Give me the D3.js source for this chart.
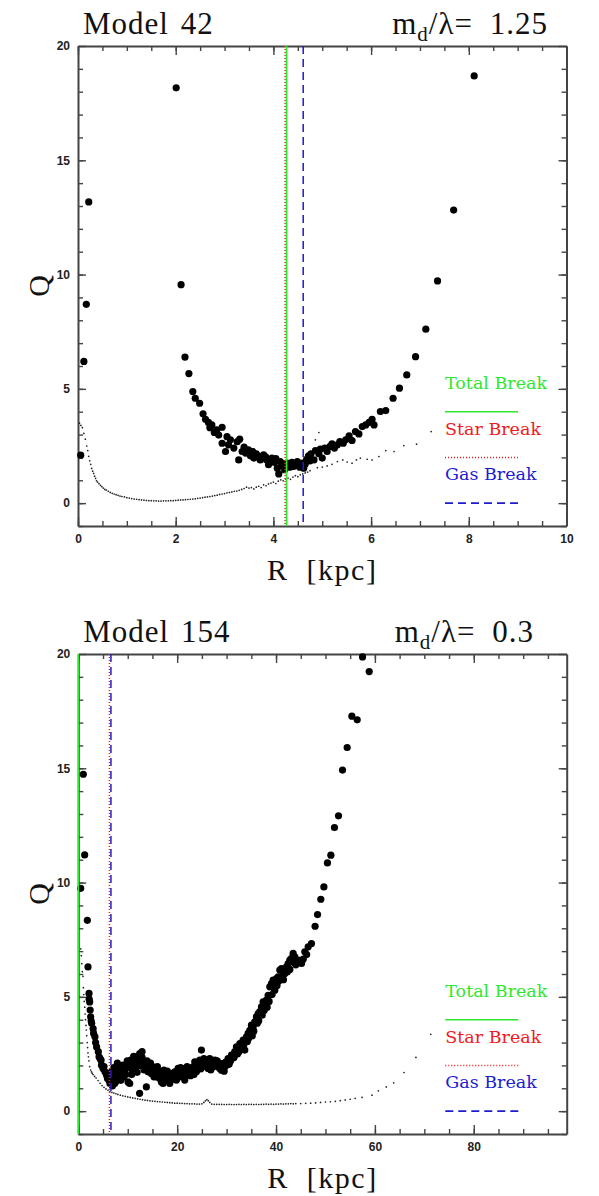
<!DOCTYPE html>
<html>
<head>
<meta charset="utf-8">
<script src="https://cdn.jsdelivr.net/npm/d3@7"></script>
<style>
  body { margin: 0; background: #fff; }
</style>
</head>
<body>
<script>
// Model 42 : big dots (Q total) and small dots, R in kpc
const m42Big = [
  [0.055,2.1],[0.12,6.2],[0.17,8.7],[0.22,13.18],[2.01,18.17],[2.11,9.56],[2.19,6.39],[2.27,5.67],
  [2.35,4.88],[2.40,4.59],[2.49,4.37],[2.56,3.91],[2.61,3.67],[2.67,3.53],[2.70,3.30],[2.74,3.42],
  [2.79,3.09],[2.84,3.21],[2.88,2.98],[2.95,3.32],[2.95,2.62],[3.02,2.26],[3.05,2.91],[3.08,2.55],
  [3.12,2.77],[3.19,2.41],[3.26,2.69],[3.31,2.80],[3.29,1.89],[3.36,2.26],[3.40,2.45],[3.43,2.19],
  [3.49,2.33],[3.53,2.07],[3.58,2.25],[3.60,1.97],[3.65,2.16],[3.70,2.05],[3.73,1.89],[3.80,2.11],
  [3.84,2.02],[3.86,1.89],[3.90,1.68],[3.93,1.85],[3.97,1.97],[4.02,1.78],[4.05,1.95],[4.08,1.53],
  [4.11,1.28],[4.14,1.82],[4.18,1.63],[4.20,1.72],[4.23,1.46],[4.28,1.75],[4.33,1.57],[4.38,1.78],
  [4.40,1.60],[4.43,1.63],[4.49,1.82],[4.52,1.70],[4.54,1.57],[4.59,1.75],[4.62,1.53],[4.65,1.70],
  [4.68,1.92],[4.72,2.07],[4.75,1.85],[4.77,2.16],[4.83,1.89],[4.86,2.30],[4.93,2.16],[4.96,2.36],
  [5.00,1.97],[5.05,2.41],[5.10,2.26],[5.16,2.48],[5.20,2.59],[5.25,2.41],[5.31,2.55],[5.36,2.69],
  [5.43,2.62],[5.48,2.77],[5.55,2.94],[5.61,2.74],[5.68,3.13],[5.75,3.03],[5.82,3.35],[5.89,3.42],
  [5.96,3.53],[6.02,3.67],[6.06,3.42],[6.19,4.01],[6.30,4.05],[6.45,4.59],[6.58,5.03],[6.73,5.61],
  [6.91,6.41],[7.12,7.61],[7.36,9.72],[7.69,12.82],[8.11,18.69]
];
const m42Small = [
  [0.03,3.5],[0.06,3.4],[0.09,3.3],[0.12,3.05],[0.15,2.8],[0.18,2.5],[0.2,2.3],[0.22,2.05],
  [0.24,1.85],[0.26,1.7],[0.28,1.52],[0.3,1.4],[0.32,1.3],[0.34,1.18],[0.36,1.08],[0.38,0.98],
  [0.4,0.92],[0.43,0.85],[0.46,0.78],[0.49,0.72],[0.52,0.66],[0.55,0.6],[0.58,0.57],[0.62,0.52],
  [0.66,0.47],[0.7,0.43],[0.74,0.4],[0.78,0.37],[0.82,0.34],[0.86,0.31],[0.9,0.29],[0.95,0.27],
  [1.0,0.24],[1.05,0.22],[1.1,0.2],[1.15,0.18],[1.2,0.17],[1.25,0.15],[1.3,0.14],[1.35,0.13],
  [1.4,0.12],[1.45,0.11],[1.5,0.11],[1.55,0.1],[1.6,0.1],[1.65,0.09],[1.7,0.09],[1.75,0.1],
  [1.8,0.1],[1.85,0.1],[1.9,0.11],[1.95,0.11],[2.0,0.12],[2.05,0.13],[2.1,0.14],[2.15,0.14],
  [2.2,0.15],[2.25,0.16],[2.3,0.17],[2.35,0.18],[2.4,0.19],[2.45,0.21],[2.5,0.22],[2.55,0.24],
  [2.6,0.26],[2.65,0.27],[2.7,0.29],[2.75,0.31],[2.8,0.33],[2.85,0.35],[2.9,0.38],[2.95,0.4],
  [3.0,0.42],[3.05,0.45],[3.1,0.47],[3.15,0.49],[3.2,0.52],[3.25,0.53],[3.3,0.56],[3.35,0.6],
  [3.4,0.64],[3.45,0.7],[3.5,0.66],[3.55,0.68],[3.6,0.62],[3.65,0.7],[3.7,0.74],[3.75,0.68],
  [3.8,0.8],[3.85,0.76],[3.9,0.84],[3.95,0.88],[4.0,0.92],[4.05,0.86],[4.1,0.96],[4.15,1.02],
  [4.2,0.98],[4.25,1.06],[4.3,1.1],[4.35,1.04],[4.4,1.14],[4.45,1.2],[4.5,1.16],[4.55,1.24],
  [4.6,1.28],[4.65,1.32],[4.7,1.36],[4.75,1.42],[4.86,2.77],[4.93,3.09],[4.9,1.55],[5.0,1.58],
  [5.1,1.63],[5.2,1.7],[5.31,1.82],[5.42,1.89],[5.51,1.8],[5.61,1.75],[5.7,1.89],[5.78,1.97],
  [5.92,1.92],[6.02,1.89],[6.16,2.04],[6.3,2.3],[6.47,2.26],[6.67,2.52],[6.93,2.58],[7.23,3.13]
];

// Model 154
const m154Big = [
  [0.48,9.75],[1.01,14.74],[1.29,11.21],[1.83,8.35],[1.96,6.31],[2.17,5.15],[2.2,4.9],[2.3,4.78],
  [2.4,4.42],[2.5,4.13],[2.6,3.95],[2.7,3.84],[3.0,3.61],[3.1,3.4],[3.37,3.25],[3.5,3.0],
  [3.7,2.81],[4.05,2.6],[4.2,2.38],[4.4,2.3],[4.6,2.23],[4.7,2.01],[5.0,1.87],[5.2,1.95],
  [5.4,1.72],[5.7,1.58],[5.9,1.43],[6.2,1.35],[6.4,1.21],[6.6,1.7],[6.9,1.1],
  [7.0,1.5],[7.2,1.9],[7.36,1.21],[7.6,1.3],[7.7,1.79],[7.9,2.1],[8.04,1.5],[8.37,1.94],
  [8.6,1.35],[8.71,1.65],[9.05,2.01],[9.2,1.5],[9.39,1.72],[9.72,1.94],[9.9,2.2],[10.06,1.28],
  [10.4,1.21],[10.6,2.23],[10.8,1.6],[11.07,2.08],[11.2,2.4],[11.41,1.87],[11.75,2.38],[11.9,1.7],
  [12.09,2.01],[12.4,0.78],[12.42,2.52],[12.6,2.0],[12.76,2.23],[12.9,2.6],[13.1,1.94],[13.3,1.8],
  [13.43,2.16],[13.77,1.06],[13.9,2.2],[14.11,1.72],[14.45,1.87],[14.6,2.1],[14.78,1.65],[15.12,1.94],
  [15.3,1.5],[15.46,1.72],[15.8,1.5],[16.0,1.95],[16.13,1.79],[16.47,1.43],[16.7,1.7],[16.81,1.28],
  [17.15,1.21],[17.3,1.8],[17.48,1.57],[17.82,1.36],[18.0,1.75],[18.16,1.5],[18.5,1.21],[18.7,1.35],
  [18.83,1.57],[19.17,1.43],[19.3,1.6],[19.51,1.72],[19.85,1.36],[20.0,1.6],[20.18,1.87],[20.52,1.5],
  [20.7,1.9],[20.86,1.79],[21.2,1.65],[21.4,1.85],[21.53,1.36],[21.87,1.72],[22.0,1.95],[22.21,1.57],
  [22.55,1.79],[22.7,1.55],[22.88,1.87],[23.22,1.94],[23.4,1.6],[23.56,2.16],[23.9,1.72],[24.0,1.9],
  [24.23,2.08],[24.57,2.23],[24.8,1.85],[24.91,2.67],[25.24,2.01],[25.4,2.3],[25.58,2.23],[25.92,2.08],
  [26.0,2.15],[26.26,1.87],[26.59,2.3],[26.8,1.8],[26.93,2.08],[27.27,1.94],[27.5,2.0],[27.61,2.23],
  [27.94,2.16],[28.1,2.2],[28.28,1.94],[28.62,1.87],[28.8,2.05],[28.96,1.79],[29.29,2.08],[29.5,1.75],
  [29.63,1.94],[29.97,2.01],[30.1,2.1],[30.3,2.3],[30.64,2.16],[30.8,2.2],[30.98,2.45],[31.32,2.38],
  [31.5,2.35],[31.65,2.6],[31.99,2.81],[32.2,2.5],[32.33,2.74],[32.67,2.96],[33.0,2.89],[33.2,2.7],
  [33.34,3.11],[33.68,2.67],[34.02,3.25],[34.2,3.05],[34.35,3.4],[34.69,3.54],[35.03,3.76],[35.2,3.3],
  [35.37,3.69],[35.7,3.91],[36.04,4.13],[36.2,3.85],[36.38,4.27],[36.72,4.35],[37.05,4.56],[37.2,4.2],
  [37.39,4.78],[37.73,4.64],[38.06,4.86],[38.2,4.55],[38.4,5.07],[38.74,5.44],[39.08,5.58],[39.2,5.1],
  [39.41,5.73],[39.75,5.29],[40.09,5.8],[40.2,5.5],[40.43,5.88],[40.76,6.17],[41.1,6.24],[41.44,6.09],
  [41.5,5.75],[41.78,6.02],[42.11,6.31],[42.45,6.46],[42.79,6.61],[42.8,6.2],[43.13,6.68],[43.46,6.9],
  [43.8,6.75],[44.0,6.4],[44.47,6.61],[45.15,6.46],[45.5,6.65],[45.82,6.97],[46.2,6.85],[46.5,7.19],
  [47.17,7.33],[47.9,8.09],[48.4,8.6],[49.06,9.27],[49.68,9.81],[50.4,10.86],[51.09,11.2],[51.82,12.41],
  [52.64,12.92],[53.45,14.92],[54.39,15.91],[55.34,17.28],[56.42,17.12],[57.5,19.87],[58.85,19.23],
  // extra cluster points (band thickness)
  [7.5,1.65],[8.2,1.8],[8.9,1.85],[9.6,1.6],[10.3,1.9],[11.0,1.75],[11.6,2.15],[12.2,2.3],
  [12.9,2.35],[13.6,2.0],[14.3,1.95],[15.0,1.8],[15.7,1.65],[16.4,1.6],[17.1,1.55],[17.9,1.6],
  [18.6,1.65],[19.4,1.5],[20.3,1.7],[21.0,1.6],[21.7,1.55],[22.4,1.7],[23.1,1.75],[23.8,2.0],
  [24.4,2.0],[25.1,2.1],[25.8,1.95],[26.4,2.05],[27.1,2.15],[27.8,2.05],[28.5,2.1],[29.1,1.95],
  [29.8,2.15],[30.5,2.05],[31.1,2.3],[31.8,2.5],[32.5,2.6],[33.5,2.9],[34.5,3.2],[35.5,3.5],
  [36.5,3.95],[37.6,4.4],[38.6,4.8],[39.6,5.4],[40.6,5.7],[41.3,5.9],[42.3,6.1],[43.6,6.5]
];
const m154Small = [
  [0.5,7.1],[0.6,6.8],[0.7,6.45],[0.82,6.1],[0.95,5.9],[1.02,5.4],[1.1,5.1],[1.2,4.8],
  [1.3,4.55],[1.38,4.25],[1.45,4.0],[1.55,3.75],[1.62,3.55],[1.7,3.3],[1.8,3.0],[1.88,2.78],
  [1.96,2.55],[2.05,2.38],[2.15,2.2],[2.3,1.95],[2.5,1.8],[2.65,1.72],[2.8,1.66],[3.0,1.6],
  [3.3,1.52],[3.6,1.45],[4.0,1.34],[4.4,1.22],[4.8,1.12],[5.2,1.04],[5.6,0.97],[6.0,0.91],
  [6.4,0.86],[6.8,0.82],[7.2,0.79],[7.6,0.76],[8.0,0.73],[8.5,0.7],[9.0,0.67],[9.5,0.65],
  [10,0.62],[10.5,0.6],[11,0.58],[11.5,0.56],[12,0.54],[12.5,0.52],[13,0.5],[13.5,0.48],
  [14,0.47],[14.5,0.45],[15,0.44],[15.5,0.43],[16,0.42],[16.5,0.41],[17,0.4],[17.5,0.39],
  [18,0.38],[18.5,0.37],[19,0.36],[19.5,0.35],[20,0.35],[20.5,0.34],[21,0.34],[21.5,0.33],
  [22,0.33],[22.5,0.32],[23,0.32],[23.5,0.32],[24,0.31],[24.5,0.31],[25,0.32],[25.4,0.38],
  [25.7,0.45],[26.0,0.5],[26.3,0.46],[26.6,0.38],[27,0.31],[27.5,0.3],[28,0.3],[28.5,0.3],
  [29,0.3],[29.5,0.29],[30,0.29],[30.5,0.3],[31,0.29],[31.5,0.29],[32,0.29],[32.5,0.3],
  [33,0.29],[33.5,0.3],[34,0.29],[34.5,0.3],[35,0.3],[35.5,0.29],[36,0.3],[36.5,0.29],
  [37,0.3],[37.5,0.3],[38,0.31],[38.5,0.3],[39,0.31],[39.5,0.3],[40,0.31],[40.5,0.31],
  [41,0.32],[41.5,0.31],[42,0.32],[42.5,0.32],[43,0.33],[43.5,0.32],[44,0.33],[45,0.33],
  [46,0.34],[47,0.35],[48,0.36],[49,0.38],[50,0.4],[51,0.41],[52,0.43],[53,0.46],
  [54,0.49],[55,0.52],[56,0.56],[57.4,0.6],[59.4,0.7],[60.7,0.89],[62.3,1.06],[63.8,1.24],
  [65.9,1.69],[68.3,2.35],[71.3,3.36]
];

// break radii [total, star, gas]
const m42Breaks = [4.27, 4.24, 4.61];
const m154Breaks = [0, 6.3, 6.6];

const breakNames = ['Total Break', 'Star Break', 'Gas Break'];
const breakColors = ['#2ee82e', '#ee1c1c', '#1c1cd0'];
const breakDash = [null, '1,2', '8,5'];

const yMajor = [0, 5, 10, 15, 20];

const serif = 'Liberation Serif, Times New Roman, serif';

const wid = 599, hei = 1196;
const svg = d3.select('body').append('svg')
    .attr('width', wid)
    .attr('height', hei)
    .style('background', '#fff');

function drawPanel(p) {
    const x = d3.scaleLinear().domain(p.xDomain).range([p.left, p.right]);
    const y = d3.scaleLinear().domain([-1, 20]).range([p.bottom, p.top]);
    const g = svg.append('g');

    const yMinor = d3.range(-1, 20, 1);
    const axes = [
        [() => d3.axisBottom(x), 'translate(0,' + p.bottom + ')', p.xMajor, p.xMinor, true, 9],
        [() => d3.axisTop(x), 'translate(0,' + p.top + ')', p.xMajor, p.xMinor, false, 9],
        [() => d3.axisLeft(y), 'translate(' + p.left + ',0)', yMajor, yMinor, true, 8],
        [() => d3.axisRight(y), 'translate(' + p.right + ',0)', yMajor, yMinor, false, 8]
    ];
    axes.forEach(([mk, tr, major, minor, lab, len]) => {
        g.append('g').attr('transform', tr)
            .call(mk().tickValues(minor).tickSize(-5).tickSizeOuter(0).tickFormat(''))
            .call(s => s.select('.domain').remove());
        const a = g.append('g').attr('transform', tr)
            .call(mk().tickValues(major).tickSize(-len).tickSizeOuter(0).tickPadding(8)
                .tickFormat(lab ? d3.format('d') : ''));
        a.selectAll('text')
            .attr('font-family', 'Liberation Sans, Arial, sans-serif')
            .attr('font-weight', 'bold')
            .attr('font-size', 12)
            .attr('fill', '#222');
    });
    g.selectAll('.tick line').attr('stroke', '#444').attr('stroke-width', 1.4);
    g.selectAll('.domain').attr('stroke', '#444').attr('stroke-width', 2);

    // small dots
    g.append('g').selectAll('circle')
        .data(p.small).join('circle')
        .attr('cx', d => x(d[0]))
        .attr('cy', d => y(d[1]))
        .attr('r', 0.85)
        .attr('fill', '#222');

    // big dots
    g.append('g').selectAll('circle')
        .data(p.big).join('circle')
        .attr('cx', d => x(d[0]))
        .attr('cy', d => y(d[1]))
        .attr('r', 3.6)
        .attr('fill', '#000');

    // break lines: gas, star, total (total on top)
    [2, 1, 0].forEach(i => {
        g.append('line')
            .attr('x1', x(p.breaks[i])).attr('x2', x(p.breaks[i]))
            .attr('y1', p.top).attr('y2', p.bottom)
            .attr('stroke', breakColors[i])
            .attr('stroke-width', i === 0 ? 1.7 : 1.5)
            .attr('stroke-dasharray', breakDash[i]);
    });

    // legend
    const lx = p.left + 367, lw = 73;
    breakNames.forEach((name, i) => {
        g.append('text')
            .attr('x', lx)
            .attr('y', y(5 - 2 * i))
            .attr('font-family', 'DejaVu Serif, serif')
            .attr('font-size', 17.5)
            .attr('fill', breakColors[i])
            .text(name);
        g.append('line')
            .attr('x1', lx).attr('x2', lx + lw)
            .attr('y1', y(4 - 2 * i)).attr('y2', y(4 - 2 * i))
            .attr('stroke', breakColors[i])
            .attr('stroke-width', 1.6)
            .attr('stroke-dasharray', breakDash[i]);
    });

    // titles
    g.append('text')
        .attr('x', p.left + 5).attr('y', p.top - 12)
        .attr('font-family', serif)
        .attr('font-size', 31)
        .attr('letter-spacing', 1)
        .attr('word-spacing', 3)
        .attr('fill', '#111')
        .text(p.title);
    const t = g.append('text')
        .attr('x', p.ratioX).attr('y', p.top - 12)
        .attr('text-anchor', 'end')
        .attr('font-family', serif)
        .attr('font-size', 31)
        .attr('letter-spacing', 1)
        .attr('word-spacing', 8)
        .attr('fill', '#111');
    t.append('tspan').text('m');
    t.append('tspan').attr('dy', 7).attr('font-size', 21).text('d');
    t.append('tspan').attr('dy', -7).text('/λ= ' + p.ratio);

    // axis labels
    g.append('text')
        .attr('x', (p.left + p.right) / 2).attr('y', p.bottom + 54)
        .attr('text-anchor', 'middle')
        .attr('font-family', serif)
        .attr('font-size', 30)
        .attr('letter-spacing', 1.5)
        .attr('word-spacing', 9)
        .attr('fill', '#111')
        .text('R [kpc]');
    g.append('text')
        .attr('transform', 'translate(49,' + ((p.top + p.bottom) / 2) + ') rotate(-90)')
        .attr('text-anchor', 'middle')
        .attr('font-family', serif)
        .attr('font-size', 30)
        .attr('fill', '#111')
        .text('Q');
}

drawPanel({
    left: 78, right: 566.5, top: 46, bottom: 526,
    xDomain: [0, 10], xMajor: [0, 2, 4, 6, 8, 10], xMinor: d3.range(0, 10, 0.5),
    big: m42Big, small: m42Small, breaks: m42Breaks,
    title: 'Model 42', ratio: '1.25', ratioX: 548
});
drawPanel({
    left: 78.3, right: 566.7, top: 654, bottom: 1134,
    xDomain: [0, 98.8], xMajor: [0, 20, 40, 60, 80], xMinor: d3.range(0, 98, 5),
    big: m154Big, small: m154Small, breaks: m154Breaks,
    title: 'Model 154', ratio: '0.3', ratioX: 534
});
</script>
</body>
</html>
